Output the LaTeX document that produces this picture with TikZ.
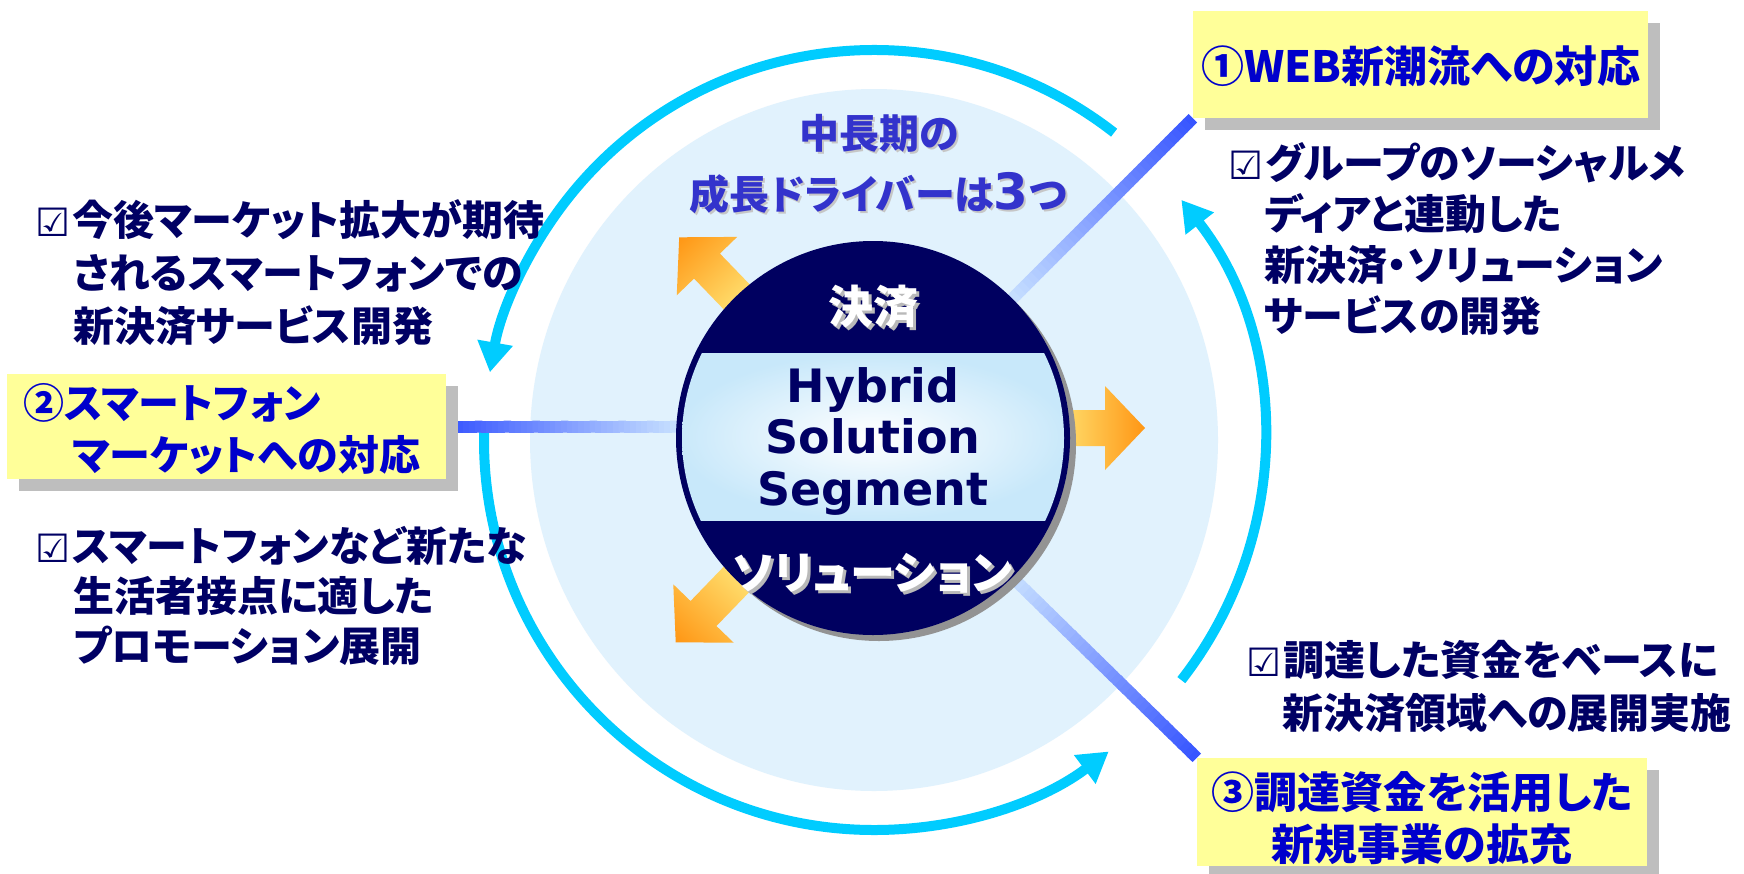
\documentclass[tikz,border=0pt]{standalone}
\usepackage{fontspec}
\usetikzlibrary{calc,arrows.meta,shadows}
\newfontfamily\jp{Noto Sans CJK JP}[RawFeature=+palt]
\newfontfamily\djv{DejaVu Sans}
\definecolor{navy}{RGB}{0,0,100}
\definecolor{hubnavy}{RGB}{0,0,96}
\definecolor{boxblue}{RGB}{0,0,204}
\definecolor{ttlblue}{RGB}{51,51,204}
\definecolor{pale}{RGB}{225,242,253}
\definecolor{ringcol}{RGB}{0,204,255}
\definecolor{yfill}{RGB}{255,255,153}
\definecolor{shad}{RGB}{190,190,190}
\definecolor{lnA}{RGB}{55,85,255}
\definecolor{lnB}{RGB}{200,225,255}
\definecolor{arY}{RGB}{255,255,150}
\definecolor{arO}{RGB}{255,150,20}
\definecolor{bandE}{RGB}{200,232,250}
\newcommand\chk{\makebox[37pt][l]{\raisebox{-1pt}{\djv\mdseries\fontsize{39pt}{39pt}\selectfont ☑}}}
\tikzset{
  txt/.style={font=\jp\bfseries\fontsize{41pt}{52pt}\selectfont, text=navy, inner sep=0pt, anchor=base west},
  tbox/.style={fill=yfill, draw=none, inner sep=0pt,
    drop shadow={shadow xshift=12pt, shadow yshift=-12pt, fill=shad, opacity=1}},
  ttl/.style={font=\jp\bfseries\fontsize{43pt}{52pt}\selectfont, text=boxblue, align=center, inner sep=0pt},
  ttlL/.style={font=\jp\bfseries\fontsize{41pt}{52pt}\selectfont, text=boxblue, inner sep=0pt, anchor=base west},
  ring/.style={draw=ringcol, line width=10pt, -{Triangle[width=34pt,length=30pt]}},
  headtxt/.style={font=\jp\bfseries\fontsize{40pt}{50pt}\selectfont, inner sep=0pt},
  hubtxt/.style={font=\jp\bfseries\fontsize{45pt}{50pt}\selectfont, inner sep=0pt},
  lat/.style={font=\djv\bfseries\fontsize{46pt}{50pt}\selectfont, text=navy, inner sep=0pt, anchor=base},
  oarrow/.style={left color=arY, right color=arO},
}
\begin{document}
\begin{tikzpicture}[x=1pt,y=-1pt]
\useasboundingbox (0,0) rectangle (1744,873);
\fill[white] (0,0) rectangle (1744,873);
\coordinate (cen) at (873,438);
\coordinate (rc) at (874,440);
% pale disc
\fill[pale] (874,440) ellipse[x radius=344, y radius=351];
% cyan ring arrows
\draw[ring] ($(rc)+(-52:390)$) arc[start angle=-52, end angle=-170, radius=390];
\draw[ring] ($(rc)+(182:390)$) arc[start angle=182, end angle=53, radius=390];
\draw[ring] ($(rc)+(38:390)$) arc[start angle=38, end angle=-38, radius=390];
% boxes (named, for connectors)
\node[tbox, minimum width=455pt, minimum height=107pt] (b1) at (1420.5,64.5) {};
\node[tbox, minimum width=439pt, minimum height=105pt] (b2) at (226.5,426.5) {};
\node[tbox, minimum width=450pt, minimum height=108pt] (b3) at (1422,812) {};
% hub placeholder node for anchors
\node[circle, minimum size=394pt, inner sep=0pt] (hub) at (cen) {};
\coordinate (l2e) at (b2.east -| hub.west);
% gradient connectors
\foreach \i [evaluate=\i as \p using {int(100-\i*2.5)}] in {0,...,39}{
  \draw[line width=12pt, color=lnA!\p!lnB]
    ($(b1.south west)!{\i/40}!(hub.north east)$) -- ($(b1.south west)!{(\i+1.3)/40}!(hub.north east)$);
  \draw[line width=12pt, color=lnA!\p!lnB]
    ($(b3.north west)!{\i/40}!(hub.south east)$) -- ($(b3.north west)!{(\i+1.3)/40}!(hub.south east)$);
  \draw[line width=12pt, color=lnA!\p!lnB]
    ($(b2.east)!{\i/40}!(l2e)$) -- ($(b2.east)!{(\i+1.3)/40}!(l2e)$);
}
% redraw boxes on top of connectors
\node[tbox, minimum width=455pt, minimum height=107pt] (b1top) at (b1.center) {};
\node[tbox, minimum width=439pt, minimum height=105pt] (b2top) at (b2.center) {};
\node[tbox, minimum width=450pt, minimum height=108pt] (b3top) at (b3.center) {};
% orange block arrows
\foreach \ang/\dy/\tip in {134/0/279, -134/0/284, 0/-10/272}{
  \begin{scope}[transform canvas={shift={(cen)}, shift={(0,\dy)}, rotate=\ang}]
    \shade[oarrow] (150,-18) -- ({\tip-40},-18) -- ({\tip-40},-42) -- (\tip,0)
      -- ({\tip-40},42) -- ({\tip-40},18) -- (150,18) -- cycle;
  \end{scope}
}
% hub circle
\fill[gray!85] ($(cen)+(6,6)$) circle[radius=197];
\fill[hubnavy] (cen) circle[radius=197];
\begin{scope}
  \clip (cen) circle[radius=191];
  \shade[inner color=white, outer color=bandE] (676,353) rectangle (1070,520);
\end{scope}
% hub texts
\node[hubtxt, text=gray!55] (kessaiS) at (876,310) {決済};
\node[hubtxt, text=white] (kessai) at (873,307) {決済};
\node[hubtxt, text=gray!55] (solS) at (876,576) {ソリューション};
\node[hubtxt, text=white] (sol) at (873,573) {ソリューション};
\node[lat] (hyb) at (873,402) {Hybrid};
\node[lat] (solu) at (873,453) {Solution};
\node[lat] (segm) at (873,505) {Segment};
% heading
\node[headtxt, text=gray!45] (h1S) at (881,135) {中長期の};
\node[headtxt, text=ttlblue] (h1) at (879,133) {中長期の};
\node[headtxt, text=gray!45] (h2S) at (880,195) {成長ドライバーは{\djv\bfseries\fontsize{50pt}{50pt}\selectfont 3}つ};
\node[headtxt, text=ttlblue] (h2) at (878,193) {成長ドライバーは{\djv\bfseries\fontsize{50pt}{50pt}\selectfont 3}つ};
% box titles
\node[ttl] (b1t) at (1421,66) {①WEB新潮流への対応};
\node[ttlL] (b2t1) at (23,418) {②スマートフォン};
\node[ttlL] (b2t2) at (72,470) {マーケットへの対応};
\node[ttl] (b3t1) at (1422,792) {③調達資金を活用した};
\node[ttl] (b3t2) at (1422,844) {新規事業の拡充};
% bullet texts
\node[txt] (lt1) at (35,235) {\chk 今後マーケット拡大が期待};
\node[txt] (lt2) at (73,288) {されるスマートフォンでの};
\node[txt] (lt3) at (73,341) {新決済サービス開発};
\node[txt] (lb1) at (35,561) {\chk スマートフォンなど新たな};
\node[txt] (lb2) at (73,611) {生活者接点に適した};
\node[txt] (lb3) at (73,661) {プロモーション展開};
\node[txt] (rt1) at (1228,178) {\chk グループのソーシャルメ};
\node[txt] (rt2) at (1264,229) {ディアと連動した};
\node[txt] (rt3) at (1264,280) {新決済・ソリューション};
\node[txt] (rt4) at (1264,331) {サービスの開発};
\node[txt] (rb1) at (1246,675) {\chk 調達した資金をベースに};
\node[txt] (rb2) at (1282,728) {新決済領域への展開実施};
\end{tikzpicture}
\end{document}
